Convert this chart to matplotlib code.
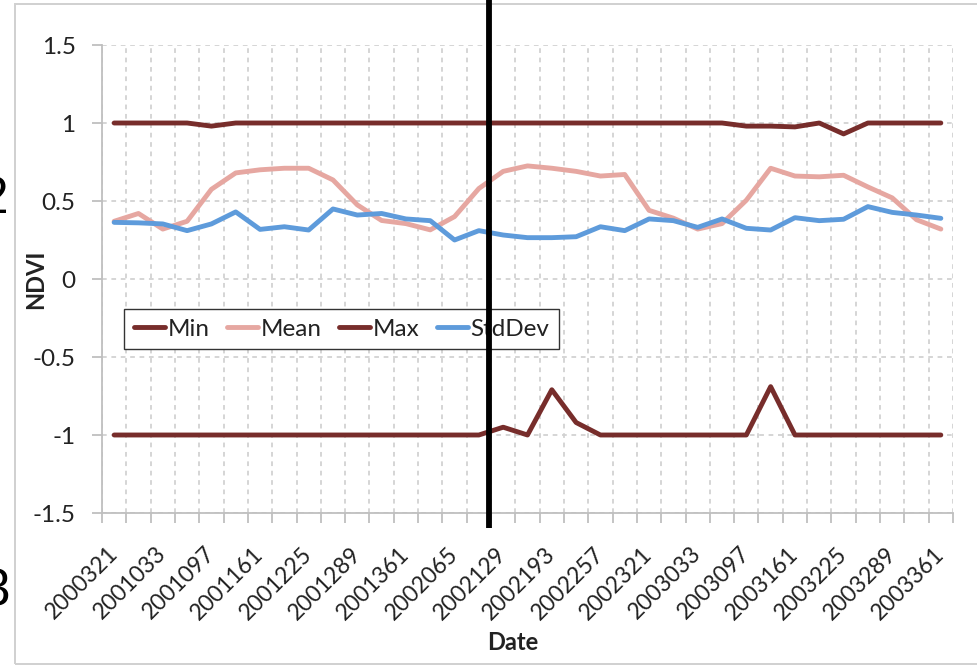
import numpy as np
import matplotlib
matplotlib.use('Agg')
import matplotlib.pyplot as plt
from matplotlib.lines import Line2D
from matplotlib.patches import Rectangle

plt.rcParams['font.family'] = ['Lato', 'DejaVu Sans']

# composite dates shown on the category axis (every other period is labelled)
date_labels = ['2000321', '2001033', '2001097', '2001161', '2001225', '2001289',
               '2001361', '2002065', '2002129', '2002193', '2002257', '2002321',
               '2003033', '2003097', '2003161', '2003225', '2003289', '2003361']

ndvi_min = [-1, -1, -1, -1, -1, -1, -1, -1, -1, -1, -1, -1, -1, -1, -1, -1,
            -0.95, -1, -0.71, -0.92, -1, -1, -1, -1, -1, -1, -1, -0.69,
            -1, -1, -1, -1, -1, -1, -1]
ndvi_mean = [0.37, 0.42, 0.32, 0.37, 0.575, 0.68, 0.70, 0.71, 0.71, 0.635,
             0.475, 0.375, 0.355, 0.315, 0.40, 0.58, 0.69, 0.725, 0.71, 0.69,
             0.66, 0.67, 0.44, 0.39, 0.32, 0.355, 0.505, 0.71, 0.66, 0.655,
             0.665, 0.59, 0.52, 0.38, 0.32]
ndvi_max = [1, 1, 1, 1, 0.98, 1, 1, 1, 1, 1, 1, 1, 1, 1, 1, 1, 1, 1, 1, 1,
            1, 1, 1, 1, 1, 1, 0.98, 0.98, 0.975, 1, 0.93, 1, 1, 1, 1]
ndvi_std = [0.363, 0.36, 0.353, 0.31, 0.353, 0.43, 0.318, 0.335, 0.314, 0.449,
            0.41, 0.42, 0.385, 0.374, 0.25, 0.31, 0.282, 0.265, 0.265, 0.271,
            0.335, 0.31, 0.385, 0.374, 0.331, 0.385, 0.325, 0.314, 0.393,
            0.374, 0.383, 0.464, 0.427, 0.41, 0.389]

y_ticks = [-1.5, -1, -0.5, 0, 0.5, 1, 1.5]
y_labels = ['-1.5', '-1', '-0.5', '0', '0.5', '1', '1.5']

W, H = 978, 666
fig = plt.figure(figsize=(W / 100, H / 100), dpi=100)
ax = fig.add_axes([102 / W, 1 - 513 / H, 851 / W, 468 / H])

x = np.arange(len(ndvi_mean))
lw = 3.5
ax.plot(x, ndvi_min, color='#772D2B', lw=lw, label='Min', solid_capstyle='round', zorder=3)
ax.plot(x, ndvi_mean, color='#E6A7A1', lw=lw, label='Mean', solid_capstyle='round', zorder=3)
ax.plot(x, ndvi_max, color='#772D2B', lw=lw, label='Max', solid_capstyle='round', zorder=3)
ax.plot(x, ndvi_std, color='#5E9BDB', lw=lw, label='StdDev', solid_capstyle='round', zorder=3)

ax.set_xlim(-0.5, len(x) - 0.5)
ax.set_ylim(-1.5, 1.5)

# category boundaries carry the tick marks and the vertical grid
ax.set_xticks(np.arange(-0.5, len(x)), minor=True)
ax.set_xticks(np.arange(0, len(x), 2))
ax.set_xticklabels(date_labels, rotation=45, ha='right', rotation_mode='anchor', va='center')
ax.tick_params(axis='x', which='major', length=0, pad=27, labelsize=16.5, colors='#222222')
ax.tick_params(axis='x', which='minor', length=7, width=1.3, color='#BFBFBF')
ax.set_yticks(y_ticks)
ax.set_yticklabels(y_labels)
ax.tick_params(axis='y', length=7, width=1.3, color='#BFBFBF', pad=12,
               labelsize=17.5, labelcolor='#222222')

grid_kw = dict(color='#D2D2D2', lw=1.3, linestyle=(0, (2.6, 2.6)))
ax.grid(True, axis='x', which='minor', **grid_kw)
ax.grid(True, axis='y', which='major', **grid_kw)
ax.set_axisbelow(True)

for side in ('top', 'right'):
    ax.spines[side].set_visible(False)
for side in ('left', 'bottom'):
    ax.spines[side].set_color('#BFBFBF')
    ax.spines[side].set_linewidth(1.3)

leg = ax.legend(ncol=4, loc='upper left', bbox_to_anchor=(124 / W, 1 - 309 / H),
                bbox_transform=fig.transFigure, borderaxespad=0, fontsize=17.5,
                handlelength=1.3, handletextpad=0.1, columnspacing=0.7,
                fancybox=False, framealpha=1, borderpad=0.4)
leg.get_frame().set_edgecolor('#333333')
leg.get_frame().set_linewidth(1.0)
for t in leg.get_texts():
    t.set_color('#222222')

fig.text(35.5 / W, 1 - 279 / H, 'NDVI', rotation=90, ha='center', va='center',
         fontsize=17, fontweight='bold', color='#222222')
fig.text(512.7 / W, 1 - 643 / H, 'Date', ha='center', va='center',
         fontsize=17, fontweight='bold', color='#222222')

# chart frame and the marker line over the plot
fig.add_artist(Rectangle((15 / W, 1 - 664 / H), 1.0, 660 / H, transform=fig.transFigure,
                         fill=False, edgecolor='#D0D0D0', lw=1.4))
fig.add_artist(Line2D([489 / W, 489 / W], [1 - 528 / H, 1.0], transform=fig.transFigure,
                      color='black', lw=4.2, solid_capstyle='butt'))

# neighbouring page numbers cut by the chart edge
fig.text(8 / W, 1 - 213 / H, '2', ha='right', va='baseline', fontsize=37,
         family='Liberation Sans', color='black')
fig.text(10 / W, 1 - 606 / H, '3', ha='right', va='baseline', fontsize=37,
         family='Liberation Sans', color='black')

fig.savefig('out.png', dpi=100)
